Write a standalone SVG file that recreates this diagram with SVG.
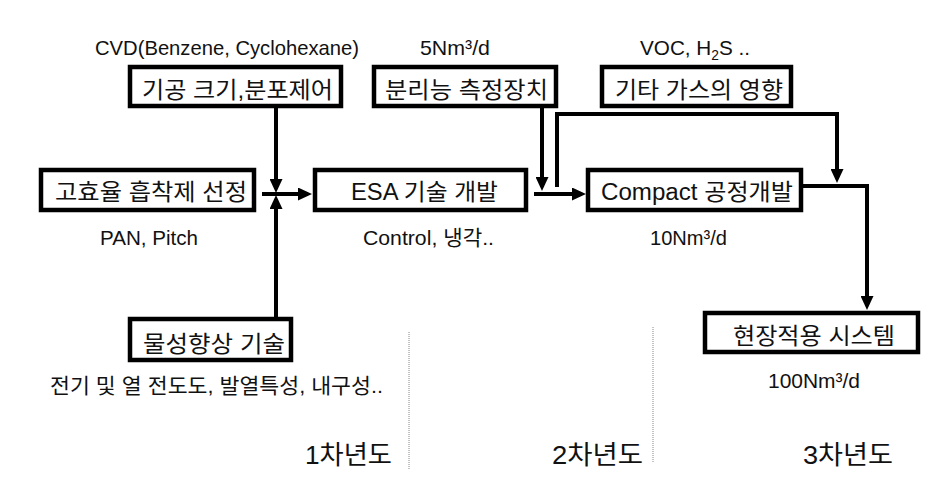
<svg xmlns="http://www.w3.org/2000/svg" width="949" height="486" viewBox="0 0 949 486">
<style>
.box{fill:#fff;stroke:#000;stroke-width:4.5}
.t{font-family:"Liberation Sans","Noto Sans CJK KR",sans-serif;fill:#111;text-anchor:middle}
.k{font-size:23px}
.l{font-size:21px}
.y{font-size:26px}
.c{fill:none;stroke:#000;stroke-width:4}
.d{stroke:#888;stroke-width:1;stroke-dasharray:1 1}
</style>
<defs>
<marker id="ah" markerUnits="userSpaceOnUse" markerWidth="14" markerHeight="13" refX="10" refY="6.5" orient="auto">
<path d="M0,0 L14,6.5 L0,13 z" fill="#000"/>
</marker>
</defs>
<rect width="949" height="486" fill="#fff"/>
<g id="connectors">
<path class="c" d="M276,108 V189" marker-end="url(#ah)"/>
<path class="c" d="M276,317 V199" marker-end="url(#ah)"/>
<path class="c" d="M262,194 H308" marker-end="url(#ah)"/>
<path class="c" d="M542,107 V187" marker-end="url(#ah)"/>
<path class="c" d="M557,187 V114 H837 V179" marker-end="url(#ah)"/>
<path class="c" d="M534,194 H582" marker-end="url(#ah)"/>
<path class="c" d="M803,186 H867 V306" marker-end="url(#ah)"/>
</g>
<g id="dividers">
<line class="d" x1="409" y1="332" x2="409" y2="470"/>
<line class="d" x1="653" y1="327" x2="653" y2="462"/>
</g>
<g id="n-pore">
<rect class="box" x="130" y="67" width="211" height="39"/>
<text class="t k" x="237.5" y="98" textLength="191" lengthAdjust="spacingAndGlyphs">기공 크기,분포제어</text>
</g>
<g id="n-measure">
<rect class="box" x="374" y="67" width="182" height="39"/>
<text class="t k" x="466.5" y="98" textLength="163" lengthAdjust="spacingAndGlyphs">분리능 측정장치</text>
</g>
<g id="n-gas">
<rect class="box" x="602" y="67" width="189" height="39"/>
<text class="t k" x="699" y="98" textLength="168" lengthAdjust="spacingAndGlyphs">기타 가스의 영향</text>
</g>
<g id="n-adsorbent">
<rect class="box" x="41" y="170" width="213" height="40"/>
<text class="t k" x="151" y="200" textLength="192" lengthAdjust="spacingAndGlyphs">고효율 흡착제 선정</text>
</g>
<g id="n-esa">
<rect class="box" x="315" y="170" width="211" height="40"/>
<text class="t k" x="424.5" y="200" textLength="147" lengthAdjust="spacingAndGlyphs">ESA 기술 개발</text>
</g>
<g id="n-compact">
<rect class="box" x="588" y="170" width="213" height="40"/>
<text class="t k" x="697" y="200" textLength="192" lengthAdjust="spacingAndGlyphs">Compact 공정개발</text>
</g>
<g id="n-property">
<rect class="box" x="130" y="319" width="161" height="41"/>
<text class="t k" x="214" y="352" textLength="142" lengthAdjust="spacingAndGlyphs">물성향상 기술</text>
</g>
<g id="n-field">
<rect class="box" x="705" y="313" width="213" height="39"/>
<text class="t k" x="814" y="344" textLength="162" lengthAdjust="spacingAndGlyphs">현장적용 시스템</text>
</g>
<g id="labels">
<text class="t l" x="227" y="55" textLength="264" lengthAdjust="spacingAndGlyphs">CVD(Benzene, Cyclohexane)</text>
<text class="t l" x="455" y="55" textLength="70" lengthAdjust="spacingAndGlyphs">5Nm³/d</text>
<text class="t l" x="695" y="55" textLength="110" lengthAdjust="spacingAndGlyphs">VOC, H<tspan font-size="14" dy="5">2</tspan><tspan dy="-5">S ..</tspan></text>
<text class="t l" x="149" y="245" textLength="98" lengthAdjust="spacingAndGlyphs">PAN, Pitch</text>
<text class="t l" x="428.5" y="245" textLength="131" lengthAdjust="spacingAndGlyphs">Control, 냉각..</text>
<text class="t l" x="688.5" y="245" textLength="77" lengthAdjust="spacingAndGlyphs">10Nm³/d</text>
<text class="t l" x="216.5" y="393" textLength="333" lengthAdjust="spacingAndGlyphs">전기 및 열 전도도, 발열특성, 내구성..</text>
<text class="t l" x="814" y="388" textLength="92" lengthAdjust="spacingAndGlyphs">100Nm³/d</text>
<text class="t y" x="348.5" y="464" textLength="87" lengthAdjust="spacingAndGlyphs">1차년도</text>
<text class="t y" x="597.5" y="464" textLength="91" lengthAdjust="spacingAndGlyphs">2차년도</text>
<text class="t y" x="848" y="464" textLength="90" lengthAdjust="spacingAndGlyphs">3차년도</text>
</g>
</svg>
